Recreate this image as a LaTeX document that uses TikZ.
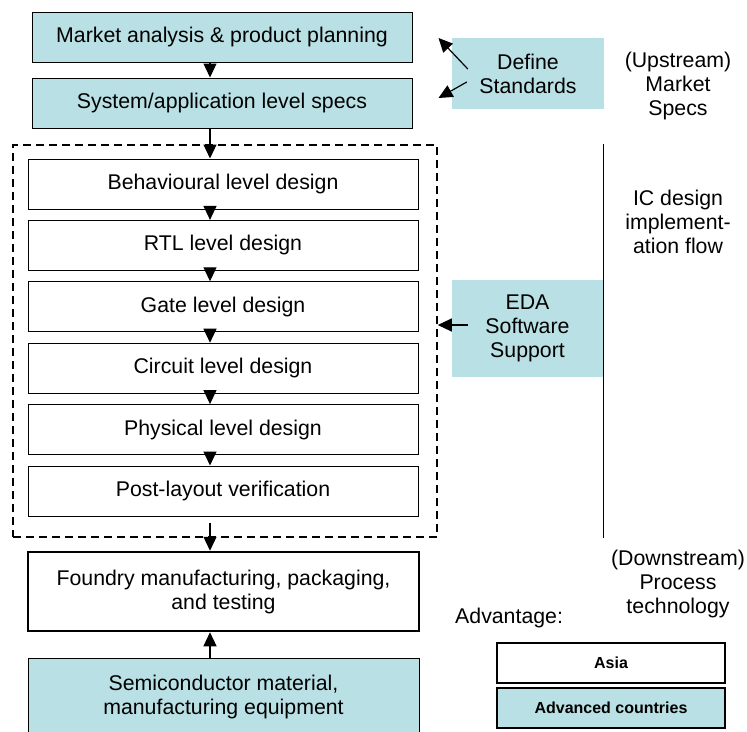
\documentclass[tikz,border=0pt]{standalone}
\usepackage{fontspec}
\setmainfont{Liberation Sans}
\usetikzlibrary{arrows.meta}
\definecolor{specblue}{RGB}{185,224,228}

\begin{document}
\begin{tikzpicture}[>={Triangle[length=14pt,width=13pt]},x=1pt,y=-1pt,
        every node/.style={font=\fontsize{21.3}{24}\selectfont,align=center,inner sep=0pt},
        spec/.style={draw,fill=specblue,line width=1pt},
        stage/.style={draw,line width=1pt,minimum width=390,minimum height=50},
        legend/.style={draw,line width=2pt,minimum width=228,minimum height=40,
            font=\fontsize{16}{18}\selectfont\bfseries},
        flow/.style={->,line width=1.2pt}]
    \useasboundingbox (0,0) rectangle (747,731);
    \node[spec,minimum width=380,minimum height=50] (mkt) at (222,37) {Market analysis \& product planning};
    \node[spec,minimum width=380,minimum height=50] (sys) at (222,103) {System/application level specs};
    \node[draw,line width=1.6pt,dash pattern=on 8pt off 5pt,minimum width=424,minimum height=392] (impl) at (225,341) {};
    \foreach \t [count=\i] in {Behavioural level design,RTL level design,Gate level design,
            Circuit level design,Physical level design,Post-layout verification}
        \node[stage] (d\i) at (223,{184+61.4*(\i-1)}) {\t};
    \node[stage,line width=2.5pt,minimum width=391,minimum height=79] (fab) at (223.5,591.5)
        {Foundry manufacturing, packaging,\\and testing};
    \node[spec,minimum width=391,minimum height=77] (mat) at (223.5,696.5)
        {Semiconductor material,\\manufacturing equipment};
    \coordinate (ax) at (210,0);
    \draw[flow] (mkt.south -| ax) -- (sys.north -| ax);
    \draw[flow] (sys.south -| ax) -- (d1.north -| ax);
    \foreach \i/\j in {1/2,2/3,3/4,4/5,5/6}
        \draw[flow] (d\i.south -| ax) -- (d\j.north -| ax);
    \draw[flow,shorten <=6pt] (d6.south -| ax) -- (fab.north -| ax);
    \draw[flow] (mat.north -| ax) -- (fab.south -| ax);
    \node[fill=specblue,minimum width=152,minimum height=71] (std) at (528,73.5) {Define\\Standards};
    \coordinate (s1) at ([shift={(26,1)}]mkt.east);
    \coordinate (s2) at ([shift={(26,-5)}]sys.east);
    \draw[flow] ([shift={(16,-4.5)}]std.west) -- (s1);
    \draw[flow] ([shift={(15,8.5)}]std.west) -- (s2);
    \node[fill=specblue,minimum width=151,minimum height=97] (eda) at (527.5,328.5) {EDA\\Software\\Support};
    \coordinate (e) at ([shift={(16,-3.5)}]eda.west);
    \draw[flow] (e) -- (e -| impl.east);
    \draw[line width=1.4pt] (eda.east |- impl.north) -- (eda.east |- impl.south);
    \node (up) at (678,86) {(Upstream)\\Market\\Specs};
    \node (ic) at (678,222) {IC design\\implement-\\ation flow};
    \node (down) at (678,584) {(Downstream)\\Process\\technology};
    \node[anchor=west] (adv) at (455,618) {Advantage:};
    \node[legend] (asia) at (611,663) {Asia};
    \node[legend,fill=specblue] (adc) at (611,708) {Advanced countries};
\end{tikzpicture}
\end{document}
